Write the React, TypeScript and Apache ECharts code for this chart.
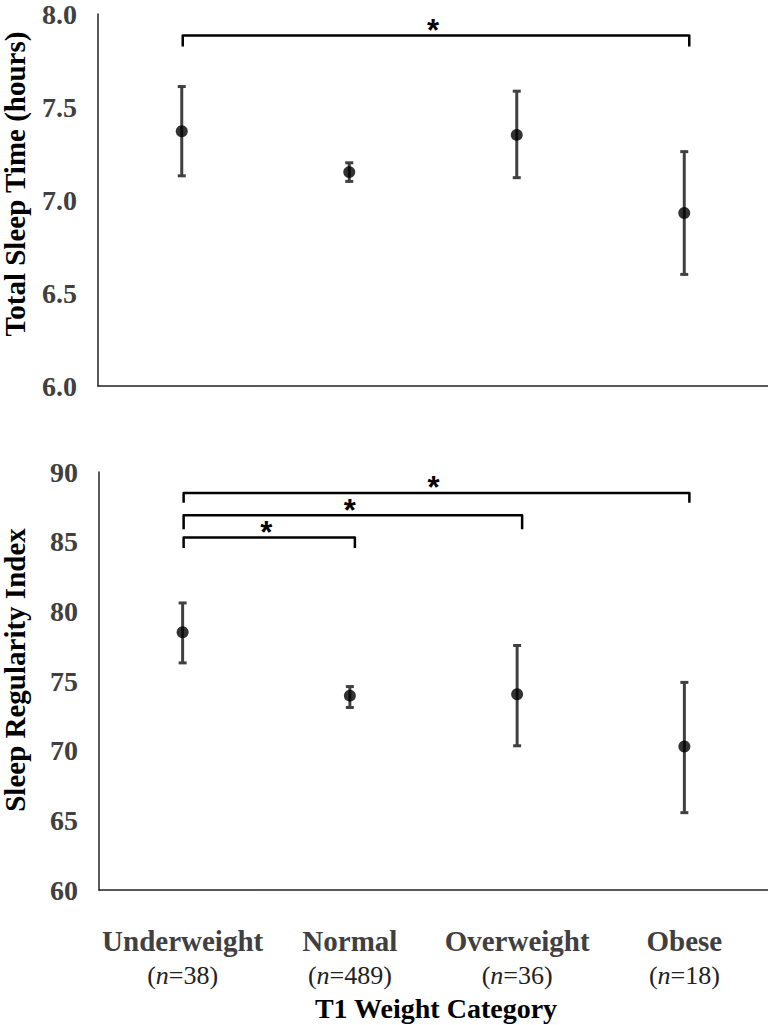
import React, { useEffect, useRef } from "react";
import * as echarts from "echarts";

const categories = ["Underweight", "Normal", "Overweight", "Obese"];
const nCounts = [38, 489, 36, 18];

const tstMean = [7.37, 7.15, 7.35, 6.93];
const tstLow = [7.13, 7.1, 7.12, 6.6];
const tstHigh = [7.61, 7.2, 7.585, 7.26];

const sriMean = [78.5, 73.95, 74.05, 70.3];
const sriLow = [76.3, 73.1, 70.35, 65.55];
const sriHigh = [80.6, 74.6, 77.55, 74.9];

const tstTicks = { min: 6, max: 8, interval: 0.5 };
const sriTicks = { min: 60, max: 90, interval: 5 };

// [fromIndex, toIndex, barValue, dropValue]
const tstBrackets = [[0, 3, 7.885, 7.825]];
const sriBrackets = [
  [0, 3, 88.5, 87.8],
  [0, 2, 86.9, 85.9],
  [0, 1, 85.3, 84.55],
];

const SERIF = "'Liberation Serif', 'Times New Roman', serif";
const GRAY = "#404040";

function errorRender(params: any, api: any) {
  const lo = api.coord([api.value(0), api.value(1)]);
  const hi = api.coord([api.value(0), api.value(2)]);
  const cw = 4;
  const style = { stroke: GRAY, lineWidth: 3 };
  return {
    type: "group",
    children: [
      { type: "line", shape: { x1: lo[0], y1: lo[1], x2: hi[0], y2: hi[1] }, style },
      { type: "line", shape: { x1: lo[0] - cw, y1: lo[1], x2: lo[0] + cw, y2: lo[1] }, style },
      { type: "line", shape: { x1: hi[0] - cw, y1: hi[1], x2: hi[0] + cw, y2: hi[1] }, style },
    ],
  };
}

function bracketRender(params: any, api: any) {
  const a = api.coord([api.value(0), api.value(2)]);
  const b = api.coord([api.value(1), api.value(2)]);
  const d = api.coord([api.value(0), api.value(3)]);
  const x1 = a[0] + 1;
  const x2 = b[0] + 5;
  return {
    type: "group",
    children: [
      {
        type: "polyline",
        shape: { points: [[x1, d[1]], [x1, a[1]], [x2, a[1]], [x2, d[1]]] },
        style: { stroke: "#000", lineWidth: 2.5, fill: "none", lineJoin: "round" },
      },
      {
        type: "text",
        style: {
          text: "*",
          x: (x1 + x2) / 2 - 3,
          y: a[1] - 5,
          align: "center",
          verticalAlign: "middle",
          fill: "#000",
          font: "bold 31px 'Liberation Sans', Arial, sans-serif",
        },
      },
    ],
  };
}

export default function App() {
  const ref = useRef<HTMLDivElement>(null);
  useEffect(() => {
    if (!ref.current) return;
    const chart = echarts.init(ref.current, undefined, { renderer: "svg" });
    const yLabel = {
      fontFamily: SERIF,
      fontWeight: "bold",
      fontSize: 28,
      color: GRAY,
      margin: 21,
    };
    const option: any = {
      animation: false,
      grid: [
        { left: 98, top: 10, width: 670, height: 376 },
        { left: 99, top: 472, width: 669, height: 418 },
      ],
      xAxis: [
        {
          type: "category",
          gridIndex: 0,
          data: categories,
          axisLine: { lineStyle: { color: "#222", width: 1.5 } },
          axisTick: { show: false },
          axisLabel: { show: false },
        },
        {
          type: "category",
          gridIndex: 1,
          data: categories,
          axisLine: { lineStyle: { color: "#222", width: 1.5 } },
          axisTick: { show: false },
          axisLabel: {
            margin: 33,
            formatter: (v: string, i: number) =>
              `{b|${v}}\n{p|(}{i|n}{p|=${nCounts[i]})}`,
            rich: {
              b: { fontFamily: SERIF, fontWeight: "bold", fontSize: 29, color: GRAY, lineHeight: 35 },
              p: { fontFamily: SERIF, fontSize: 26, color: "#222", lineHeight: 35 },
              i: { fontFamily: SERIF, fontStyle: "italic", fontSize: 26, color: "#222", lineHeight: 35 },
            },
          },
        },
      ],
      yAxis: [
        {
          type: "value",
          gridIndex: 0,
          ...tstTicks,
          axisLine: { show: true, lineStyle: { color: "#222", width: 1.5 } },
          axisTick: { show: false },
          splitLine: { show: false },
          axisLabel: { ...yLabel, formatter: (v: number) => v.toFixed(1) },
        },
        {
          type: "value",
          gridIndex: 1,
          ...sriTicks,
          axisLine: { show: true, lineStyle: { color: "#222", width: 1.5 } },
          axisTick: { show: false },
          splitLine: { show: false },
          axisLabel: { ...yLabel },
        },
      ],
      graphic: [
        {
          type: "text",
          x: 15,
          y: 184,
          rotation: Math.PI / 2,
          style: {
            text: "Total Sleep Time (hours)",
            align: "center",
            verticalAlign: "middle",
            fill: "#000",
            font: `bold 29px ${SERIF}`,
          },
        },
        {
          type: "text",
          x: 15,
          y: 670,
          rotation: Math.PI / 2,
          style: {
            text: "Sleep Regularity Index",
            align: "center",
            verticalAlign: "middle",
            fill: "#000",
            font: `bold 29px ${SERIF}`,
          },
        },
        {
          type: "text",
          x: 436,
          y: 1008,
          style: {
            text: "T1 Weight Category",
            align: "center",
            verticalAlign: "middle",
            fill: "#000",
            font: `bold 28px ${SERIF}`,
          },
        },
      ],
      series: [
        {
          type: "custom",
          xAxisIndex: 0,
          yAxisIndex: 0,
          renderItem: errorRender,
          data: categories.map((_, i) => [i, tstLow[i], tstHigh[i]]),
          z: 2,
        },
        {
          type: "scatter",
          xAxisIndex: 0,
          yAxisIndex: 0,
          symbolSize: 12,
          itemStyle: { color: "#000" },
          data: tstMean,
          z: 3,
        },
        {
          type: "custom",
          xAxisIndex: 0,
          yAxisIndex: 0,
          renderItem: bracketRender,
          data: tstBrackets,
          z: 4,
        },
        {
          type: "custom",
          xAxisIndex: 1,
          yAxisIndex: 1,
          renderItem: errorRender,
          data: categories.map((_, i) => [i, sriLow[i], sriHigh[i]]),
          z: 2,
        },
        {
          type: "scatter",
          xAxisIndex: 1,
          yAxisIndex: 1,
          symbolSize: 12,
          itemStyle: { color: "#000" },
          data: sriMean,
          z: 3,
        },
        {
          type: "custom",
          xAxisIndex: 1,
          yAxisIndex: 1,
          renderItem: bracketRender,
          data: sriBrackets,
          z: 4,
        },
      ],
    };
    chart.setOption(option);
    return () => chart.dispose();
  }, []);
  return (
    <div
      ref={ref}
      style={{ position: "absolute", left: 0, top: 0, width: 768, height: 1025, background: "#fff" }}
    />
  );
}
